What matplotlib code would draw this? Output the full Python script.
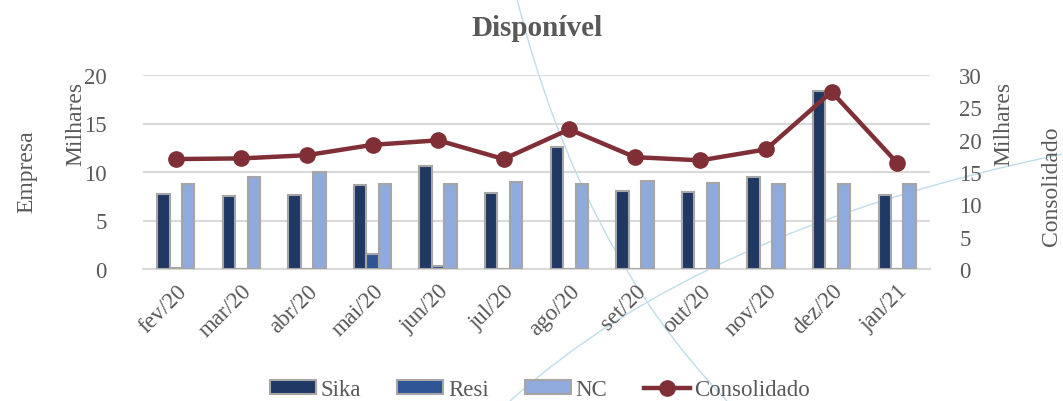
import numpy as np
import matplotlib
matplotlib.use("Agg")
import matplotlib.pyplot as plt
from matplotlib.path import Path
from matplotlib.patches import PathPatch, Patch
from matplotlib.lines import Line2D

categories = ["fev/20", "mar/20", "abr/20", "mai/20", "jun/20", "jul/20",
              "ago/20", "set/20", "out/20", "nov/20", "dez/20", "jan/21"]
sika = [7.7, 7.5, 7.6, 8.7, 10.6, 7.8, 12.6, 8.0, 7.9, 9.5, 18.4, 7.6]
resi = [0.15, 0.0, 0.0, 1.5, 0.3, 0.0, 0.0, 0.0, 0.0, 0.0, 0.0, 0.0]
nc = [8.8, 9.5, 10.0, 8.8, 8.8, 9.0, 8.8, 9.1, 8.9, 8.8, 8.8, 8.8]
consolidado = [17.0, 17.1, 17.6, 19.2, 19.9, 17.0, 21.6, 17.3, 16.8, 18.5, 27.4, 16.4]

plt.rcParams['font.family'] = ['Liberation Serif', 'DejaVu Serif']
txt = '#595959'

W, H = 1063, 402
fig = plt.figure(figsize=(W / 100, H / 100), dpi=100)
fig.patch.set_facecolor('white')

# decorative background curves (pixel coords, y down)
def fig_pt(x, y):
    return (x / W, 1 - y / H)

for pts in [[(510, 402), (700, 230), (1063, 155)],
            [(517, 0), (580, 250), (727, 402)]]:
    verts = [fig_pt(*p) for p in pts]
    path = Path(verts, [Path.MOVETO, Path.CURVE3, Path.CURVE3])
    fig.add_artist(PathPatch(path, transform=fig.transFigure, facecolor='none',
                             edgecolor='#BFDDEA', lw=1.0, zorder=-5))

ax = fig.add_axes([143 / W, 1 - 270 / H, (930 - 143) / W, (270 - 76) / H])
ax.patch.set_alpha(0)
x = np.arange(len(categories))
bw = 0.19
edge = '#A6A6A6'
ax.bar(x - bw, sika, bw, color='#1F3864', edgecolor=edge, lw=1.5, zorder=3, label='Sika')
ax.bar(x, resi, bw, color='#2F5597', edgecolor=edge, lw=1.5, zorder=3, label='Resi')
ax.bar(x + bw, nc, bw, color='#8FAADC', edgecolor=edge, lw=1.5, zorder=3, label='NC')
ax.set_xlim(-0.5, len(categories) - 0.5)
ax.set_ylim(0, 20)
ax.set_yticks(range(0, 21, 5))
ax.yaxis.grid(True, color='#D9D9D9', lw=1.5, zorder=0)
ax.set_axisbelow(True)
for s in ['top', 'right', 'left']:
    ax.spines[s].set_visible(False)
ax.spines['bottom'].set_color('#D9D9D9')
ax.spines['bottom'].set_linewidth(1.5)
ax.set_xticks(x)
ax.set_xticklabels(categories, rotation=45, ha='right', rotation_mode='anchor')
ax.tick_params(axis='x', length=0, pad=8, labelsize=16.5, labelcolor=txt)
ax.tick_params(axis='y', length=0, pad=26, labelsize=16.5, labelcolor=txt)

ax2 = ax.twinx()
ax2.plot(x, consolidado, color='#7F2F35', lw=3.2, marker='o', markersize=11, zorder=5,
         label='Consolidado')
ax2.set_ylim(0, 30)
ax2.set_yticks(range(0, 31, 5))
for s in ax2.spines.values():
    s.set_visible(False)
ax2.tick_params(axis='y', length=0, pad=21, labelsize=16.5, labelcolor=txt)

fig.text(537 / W, 1 - 28 / H, 'Disponível', ha='center', va='center',
         fontsize=21, fontweight='bold', color=txt)
fig.text(27 / W, 1 - 172 / H, 'Empresa', rotation=90, ha='center', va='center',
         fontsize=17, color=txt)
fig.text(76 / W, 1 - 124 / H, 'Milhares', rotation=90, ha='center', va='center',
         fontsize=17, color=txt)
fig.text(1004 / W, 1 - 124 / H, 'Milhares', rotation=90, ha='center', va='center',
         fontsize=17, color=txt)
fig.text(1051 / W, 1 - 186 / H, 'Consolidado', rotation=90, ha='center', va='center',
         fontsize=17, color=txt)

handles = [Patch(facecolor='#1F3864', edgecolor=edge, lw=1.5),
           Patch(facecolor='#2F5597', edgecolor=edge, lw=1.5),
           Patch(facecolor='#8FAADC', edgecolor=edge, lw=1.5),
           Line2D([], [], color='#7F2F35', lw=3.2, marker='o', markersize=11)]
leg = fig.legend(handles, ['Sika', 'Resi', 'NC', 'Consolidado'], loc='center',
                 bbox_to_anchor=(540 / W, 1 - 391 / H), ncol=4, frameon=False,
                 prop={'family': 'Liberation Serif', 'size': 16.5},
                 handlelength=2.0, handleheight=0.55, handletextpad=0.2,
                 columnspacing=1.6)
for t in leg.get_texts():
    t.set_color(txt)

fig.savefig('out.png', dpi=100, facecolor='white')
